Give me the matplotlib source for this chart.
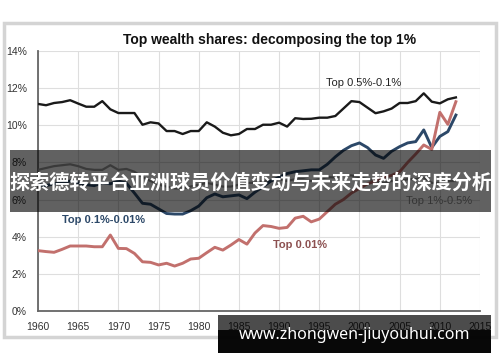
import matplotlib
matplotlib.use("Agg")
import matplotlib.pyplot as plt
from matplotlib.patches import Rectangle
import numpy as np

years = np.arange(1960, 2013)

top_05_01 = [11.15, 11.08, 11.2, 11.25, 11.35, 11.17, 11.0, 11.0, 11.3, 10.86,
             10.66, 10.66, 10.66, 10.03, 10.16, 10.1, 9.69, 9.69, 9.53, 9.69,
             9.69, 10.16, 9.93, 9.6, 9.46, 9.53, 9.8, 9.8, 10.03, 10.03,
             10.14, 9.93, 10.38, 10.34, 10.35, 10.41, 10.41, 10.5, 10.9, 11.3,
             11.25, 10.95, 10.65, 10.75, 10.9, 11.2, 11.2, 11.3, 11.72, 11.27,
             11.18, 11.4, 11.5]

top_1_05 = [7.6, 7.7, 7.8, 7.85, 7.9, 7.8, 7.65, 7.6, 7.6, 7.85,
            7.6, 7.65, 7.5, 7.2, 7.0, 6.8, 6.7, 6.6, 6.6, 6.7,
            6.8, 6.9, 6.8, 6.7, 6.7, 6.8, 6.9, 6.9, 7.0, 7.0,
            7.1, 7.0, 7.1, 7.1, 7.0, 7.1, 7.2, 7.2, 7.3, 7.3,
            7.2, 7.1, 7.0, 6.9, 7.0, 7.0, 7.1, 7.1, 7.2, 6.9,
            6.9, 7.0, 7.0]

top_01_001 = [6.8, 6.75, 6.85, 6.9, 7.0, 6.9, 6.8, 6.75, 6.9, 6.85,
              7.0, 6.88, 6.35, 5.8, 5.75, 5.5, 5.25, 5.22, 5.22, 5.4,
              5.65, 6.1, 6.3, 6.15, 6.2, 6.25, 6.05, 6.4, 6.7, 7.0,
              7.2, 7.4, 7.5, 7.55, 7.6, 7.6, 7.9, 8.3, 8.65, 8.9,
              9.05, 8.8, 8.4, 8.22, 8.6, 8.85, 9.05, 9.12, 9.75, 8.8,
              9.4, 9.66, 10.55]

top_001 = [3.25, 3.2, 3.16, 3.32, 3.5, 3.5, 3.5, 3.46, 3.46, 4.09,
           3.37, 3.36, 3.1, 2.65, 2.62, 2.48, 2.57, 2.42, 2.57, 2.8,
           2.84, 3.14, 3.43, 3.28, 3.55, 3.85, 3.6, 4.2, 4.6, 4.55,
           4.45, 4.5, 5.0, 5.1, 4.8, 4.95, 5.35, 5.75, 6.0, 6.35,
           6.6, 6.85, 7.0, 7.2, 7.3, 7.5, 8.0, 8.45, 8.94, 8.7,
           10.7, 10.05, 11.27]

x_ticks = list(range(1960, 2016, 5))
y_ticks = list(range(0, 15, 2))

W, H = 500, 362
plt.rcParams['font.family'] = ['Liberation Sans', 'DejaVu Sans']
fig = plt.figure(figsize=(W / 100, H / 100), dpi=100)


def px(x0, y0, x1, y1):
    # pixel box (top-left origin) -> figure fraction rect
    return (x0 / W, 1 - y1 / H, (x1 - x0) / W, (y1 - y0) / H)


# card frame behind the chart
c = px(4, 23, 496, 337)
fig.add_artist(Rectangle(c[:2], c[2], c[3], transform=fig.transFigure,
                         facecolor='white', edgecolor='#d4d4d4', lw=2.5, zorder=-1))

ax = fig.add_axes(px(38, 51, 480, 311))
ax.set_facecolor('none')
ax.plot(years, top_05_01, color='#1a1a1a', lw=1.7, zorder=3)
ax.plot(years, top_1_05, color='#9a9a9a', lw=1.6, zorder=3)
ax.plot(years, top_01_001, color='#2c4868', lw=2.1, zorder=3)
ax.plot(years, top_001, color='#c2706d', lw=2.1, zorder=3)

ax.set_xlim(1960, 2015)
ax.set_ylim(0, 14)
ax.set_xticks(x_ticks)
ax.set_yticks(y_ticks)
ax.set_yticklabels([f'{v}%' for v in y_ticks])
ax.tick_params(length=0, labelsize=7.5, colors='#333333', pad=8)
ax.grid(True, color='#dedede', lw=0.8)
for s in ['top', 'right']:
    ax.spines[s].set_visible(False)
for s in ['left', 'bottom']:
    ax.spines[s].set_color('#666666')
    ax.spines[s].set_linewidth(1.3)

fig.text(270 / W, 1 - 40 / H, 'Top wealth shares: decomposing the top 1%',
         ha='center', va='center', fontsize=10, fontweight='bold', color='#111111')
ax.text(2000.5, 12.3, 'Top 0.5%-0.1%', ha='center', va='center',
        fontsize=8, color='#222222')
ax.text(1963, 4.9, 'Top 0.1%-0.01%', ha='left', va='center',
        fontsize=8, fontweight='bold', color='#2c4868')
ax.text(1989.2, 3.55, 'Top 0.01%', ha='left', va='center',
        fontsize=8, fontweight='bold', color='#8c5050')
ax.text(2005.8, 5.9, 'Top 1%-0.5%', ha='left', va='center',
        fontsize=8, color='#8a8a8a')

# overlay banner
b = px(10, 150, 491, 212)
fig.add_artist(Rectangle(b[:2], b[2], b[3], transform=fig.transFigure,
                         facecolor='black', alpha=0.62, lw=0, zorder=10))
fig.text(250.5 / W, 1 - 182 / H, '探索德转平台亚洲球员价值变动与未来走势的深度分析',
         ha='center', va='center', fontsize=14.5, fontweight='bold', color='white',
         family=['Noto Sans CJK SC', 'DejaVu Sans'], zorder=11)

# watermark box
w1 = px(218, 315, 491, 330)
fig.add_artist(Rectangle(w1[:2], w1[2], w1[3], transform=fig.transFigure,
                         facecolor='black', alpha=0.7, lw=0, zorder=10))
w2 = px(218, 330, 491, 353)
fig.add_artist(Rectangle(w2[:2], w2[2], w2[3], transform=fig.transFigure,
                         facecolor='black', alpha=0.97, lw=0, zorder=10))
fig.text(355 / W, 1 - 335 / H, 'www.zhongwen-jiuyouhui.com',
         ha='center', va='center', fontsize=11.5, fontweight='bold', color='white',
         family=['Noto Sans', 'DejaVu Sans'], zorder=11)

fig.savefig('out.png', dpi=100)
